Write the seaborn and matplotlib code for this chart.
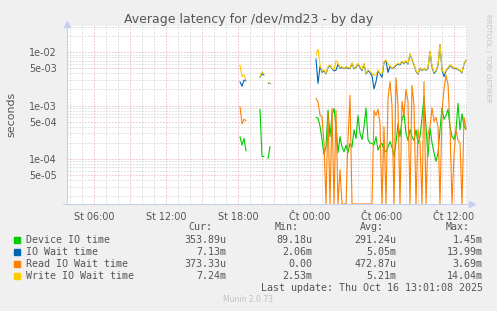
import numpy as np
import pandas as pd
import matplotlib
matplotlib.use("Agg")
import matplotlib.pyplot as plt
import seaborn as sns
from matplotlib.ticker import FixedLocator, FixedFormatter, NullFormatter
from matplotlib.lines import Line2D
from matplotlib.patches import Rectangle

# ---------------- data ----------------
nan = np.nan
title = "Average latency for /dev/md23 - by day"
ylabel = "seconds"

# x tick labels (hours since Wed 00:00)
xtick_hours = [6, 12, 18, 24, 30, 36]
xtick_labels = ["St 06:00", "St 12:00", "St 18:00", "Čt 00:00", "Čt 06:00", "Čt 12:00"]
ytick_values = [1e-2, 5e-3, 1e-3, 5e-4, 1e-4, 5e-5]
ytick_labels = ["1e-02", "5e-03", "1e-03", "5e-04", "1e-04", "5e-05"]

# evening block: 10-minute samples starting Wed 18:10
evening_start_h = 18 + 10 / 60
dev_evening = [2.6e-4, 1.8e-4, 2.4e-4, 1.4e-4, nan, nan, nan, nan, nan, nan,
               8.5e-4, 1.1e-4, 1.1e-4, nan, 1.0e-4, 1.7e-4]
iow_evening = [2.8e-3, 2.3e-3, 3.0e-3, 2.9e-3, nan, nan, nan, nan, nan, nan,
               3.4e-3, 4.0e-3, 3.7e-3, nan, 2.6e-3, 2.6e-3]
rd_evening = [9.5e-4, 4.5e-4, 5.5e-4, 5.2e-4, nan, nan, nan, nan, nan, nan,
              0.0, 0.0, 0.0, nan, 0.0, 0.0]
wr_evening = [5.8e-3, 3.5e-3, 3.8e-3, 3.0e-3, nan, nan, nan, nan, nan, nan,
              3.5e-3, 4.3e-3, 3.9e-3, nan, 2.7e-3, 2.6e-3]

# main block: 10-minute samples starting Thu 00:30
main_start_h = 24.5
dev_main = [6.0e-4, 5.8e-4, 4.1e-4, 2.3e-4, 1.2e-4, 1.65e-4, 8.2e-4, 2.6e-4, 6.6e-4, 8.8e-4,
            4.1e-4, 1.3e-4, 2.6e-4, 1.65e-4, 1.35e-4, 1.8e-4, 1.3e-4, 1.95e-4, 1.65e-4, 3.5e-4,
            2.4e-4, 6.5e-4, 3.0e-4, 2.3e-4, 4.0e-4, 9.0e-4, 2.3e-4, 1.95e-4, 1.95e-4, 1.8e-4,
            2.6e-4, 1.45e-4, 1.8e-4, 1.95e-4, 1.45e-4, 1.35e-4, 1.65e-4, 2.1e-4, 1.65e-4, 1.1e-4,
            2.0e-4, 4.5e-4, 2.6e-4, 5.5e-4, 7.0e-4, 3.0e-4, 2.2e-4, 3.5e-4, 2.6e-4, 2.2e-4,
            3.5e-4, 1.9e-4, 2.6e-4, 6.0e-4, 1.45e-3, 4.0e-4, 1.1e-4, 3.7e-4, 2.0e-4, 1.3e-4,
            8.9e-5, 1.3e-4, 3.5e-4, 9.0e-4, 5.5e-4, 6.5e-4, 8.5e-4, 4.0e-4, 2.6e-4, 2.3e-4,
            3.5e-4, 1.1e-3, 3.5e-4, 7.0e-4, 4.0e-4, 3.54e-4]
iow_main = [7.5e-3, 2.6e-3, 5.4e-3, 4.2e-3, 4.5e-3, 3.9e-3, 5.2e-3, 5.6e-3, 4.9e-3, 4.5e-3,
            4.6e-3, 6.0e-3, 5.0e-3, 5.2e-3, 4.9e-3, 5.2e-3, 5.0e-3, 4.9e-3, 6.2e-3, 4.9e-3,
            5.2e-3, 6.0e-3, 5.2e-3, 4.5e-3, 6.0e-3, 3.9e-3, 4.5e-3, 4.2e-3, 3.6e-3, 2.06e-3,
            2.8e-3, 4.5e-3, 3.9e-3, 3.4e-3, 6.4e-3, 7.0e-3, 4.2e-3, 5.4e-3, 4.9e-3, 5.2e-3,
            5.6e-3, 6.0e-3, 5.8e-3, 6.6e-3, 6.2e-3, 6.8e-3, 6.0e-3, 9.2e-3, 7.3e-3, 5.8e-3,
            4.4e-3, 3.9e-3, 5.0e-3, 4.5e-3, 4.9e-3, 4.6e-3, 5.0e-3, 1.02e-2, 5.3e-3, 4.0e-3,
            4.4e-3, 5.6e-3, 1.399e-2, 4.6e-3, 3.5e-3, 4.5e-3, 5.0e-3, 5.6e-3, 5.3e-3, 4.9e-3,
            5.0e-3, 4.7e-3, 4.5e-3, 4.1e-3, 6.0e-3, 7.13e-3]
rd_main = [1.36e-3, 1.17e-3, 6.6e-4, 6.2e-4, 1.95e-4, 0.0, 7.6e-4, 0.0, 8.8e-4, 0.0,
           8.2e-4, 0.0, 6.2e-5, 0.0, 0.0, 0.0, 2.3e-4, 1.55e-3, 0.0, 0.0,
           0.0, 0.0, 0.0, 0.0, 0.0, 0.0, 0.0, 0.0, 0.0, 8.0e-4,
           6.5e-4, 8.5e-4, 4.5e-4, 0.0, 4.0e-4, 0.0, 1.4e-3, 2.8e-3, 1.0e-3, 0.0,
           3.3e-3, 1.0e-3, 0.0, 1.2e-3, 6.5e-4, 2.0e-3, 1.2e-3, 0.0, 2.4e-3, 1.0e-3,
           0.0, 3.5e-4, 2.0e-4, 0.0, 2.8e-3, 0.0, 3.0e-4, 4.0e-4, 9.0e-4, 5.0e-4,
           6.0e-4, 4.0e-4, 0.0, 8.0e-4, 2.0e-3, 3.69e-3, 2.5e-3, 4.0e-4, 0.0, 1.2e-4,
           3.5e-4, 2.2e-4, 2.0e-4, 0.0, 6.0e-4, 3.73e-4]
wr_main = [9.0e-3, 1.15e-2, 5.8e-3, 4.4e-3, 4.7e-3, 4.0e-3, 5.4e-3, 5.8e-3, 5.0e-3, 4.7e-3,
           7.0e-3, 6.2e-3, 5.2e-3, 5.4e-3, 5.0e-3, 5.4e-3, 5.2e-3, 5.0e-3, 6.4e-3, 5.0e-3,
           5.4e-3, 6.2e-3, 5.4e-3, 4.7e-3, 6.2e-3, 4.0e-3, 4.7e-3, 4.4e-3, 4.0e-3, 3.7e-3,
           3.8e-3, 4.7e-3, 4.0e-3, 4.0e-3, 6.6e-3, 7.2e-3, 6.0e-3, 5.6e-3, 5.0e-3, 5.4e-3,
           5.8e-3, 6.2e-3, 6.0e-3, 6.8e-3, 6.4e-3, 7.0e-3, 6.2e-3, 9.5e-3, 7.5e-3, 6.0e-3,
           4.5e-3, 4.0e-3, 5.2e-3, 4.6e-3, 5.0e-3, 4.7e-3, 5.2e-3, 1.05e-2, 5.5e-3, 4.2e-3,
           4.6e-3, 5.8e-3, 1.404e-2, 4.8e-3, 4.0e-3, 4.6e-3, 5.2e-3, 5.8e-3, 5.5e-3, 5.0e-3,
           5.2e-3, 4.8e-3, 4.6e-3, 4.2e-3, 6.2e-3, 7.24e-3]

series_names = ["Device IO time", "IO Wait time", "Read IO Wait time", "Write IO Wait time"]
series_colors = ["#00CC00", "#0066B3", "#FF8000", "#FFCC00"]
leg_cur = ["353.89u", "7.13m", "373.33u", "7.24m"]
leg_min = ["89.18u", "2.06m", "0.00", "2.53m"]
leg_avg = ["291.24u", "5.05m", "472.87u", "5.21m"]
leg_max = ["1.45m", "13.99m", "3.69m", "14.04m"]
last_update = "Last update: Thu Oct 16 13:01:08 2025"
munin_ver = "Munin 2.0.73"
rrd_credit = "RRDTOOL / TOBI OETIKER"

# ---------------- layout ----------------
W, H = 497, 311
XMIN_H, XMAX_H = 3.75, 37.0833
YMIN, YMAX = 1.41e-5, 3.12e-2
STEP = 1 / 6

sns.set_theme(style="white")
plt.rcParams['font.family'] = ['DejaVu Sans']
TXT = "#555555"

fig = plt.figure(figsize=(W / 100, H / 100), dpi=100, facecolor="#F0F0F0")
def fx(px): return px / W
def fy(py): return 1 - py / H

ax = fig.add_axes([fx(67), fy(204), fx(467) - fx(67), fy(26) - fy(204)])
ax.set_facecolor("white")

t_even = evening_start_h + STEP * np.arange(len(dev_evening))
t_main = main_start_h + STEP * np.arange(len(dev_main))
t_all = np.r_[t_even, [nan], t_main]

blocks = [(dev_evening, dev_main), (iow_evening, iow_main),
          (rd_evening, rd_main), (wr_evening, wr_main)]

for (ev, mn), name, col in zip(blocks, series_names, series_colors):
    v = np.r_[np.asarray(ev, float), [nan], np.asarray(mn, float)]
    ok = ~np.isnan(v)
    seg = np.cumsum(np.r_[True, ok[1:] != ok[:-1]])
    d = pd.DataFrame({"t": t_all, "v": np.where(v > 0, v, YMIN), "seg": seg})[ok]
    sns.lineplot(data=d, x="t", y="v", units="seg", estimator=None, sort=False,
                 color=col, lw=0.8, ax=ax, legend=False, zorder=3)

ax.set_yscale("log")
ax.set_xlim(XMIN_H, XMAX_H)
ax.set_ylim(YMIN, YMAX)
ax.set_xlabel("")
ax.set_ylabel("")

# grid
x_major = np.arange(6, 37, 3)
x_minor = [h for h in range(4, 38) if h % 3 != 0]
lab_map = dict(zip(xtick_hours, xtick_labels))
ax.xaxis.set_major_locator(FixedLocator(x_major))
ax.xaxis.set_major_formatter(FixedFormatter([lab_map.get(h, "") for h in x_major]))
ax.xaxis.set_minor_locator(FixedLocator(x_minor))
ax.xaxis.set_minor_formatter(NullFormatter())
y_minor = [m * 10.0 ** e for e in range(-5, -1) for m in (2, 3, 4, 6, 7, 8, 9)]
ax.yaxis.set_major_locator(FixedLocator(ytick_values))
ax.yaxis.set_major_formatter(FixedFormatter(ytick_labels))
ax.yaxis.set_minor_locator(FixedLocator(y_minor))
ax.yaxis.set_minor_formatter(NullFormatter())

ax.grid(True, which="major", color="#E3A3A3", lw=0.72, ls=(0, (1, 2)))
ax.grid(True, which="minor", color="#C8C8C8", lw=0.72, ls=(0, (1, 2)))
ax.set_axisbelow(True)
ax.tick_params(axis="both", which="major", length=2.5, width=0.7, color="#E3A3A3",
               labelsize=6.9, labelcolor=TXT, pad=3)
ax.tick_params(axis="both", which="minor", length=2, width=0.7, color="#C8C8C8")
ax.tick_params(axis="y", which="major", pad=5)
for s in ax.spines.values():
    s.set_visible(False)

# axis lines with arrows
AX_C = "#C8CEF2"
fig.add_artist(Line2D([fx(67), fx(67)], [fy(204), fy(25)], color=AX_C, lw=0.8, transform=fig.transFigure))
fig.add_artist(Line2D([fx(63), fx(471)], [fy(204), fy(204)], color=AX_C, lw=0.8, transform=fig.transFigure))
fig.add_artist(Line2D([fx(67)], [fy(24)], marker="^", ms=4, color=AX_C, mec=AX_C, transform=fig.transFigure))
fig.add_artist(Line2D([fx(472)], [fy(204)], marker=">", ms=4, color=AX_C, mec=AX_C, transform=fig.transFigure))

# texts
fig.text(fx(248.5), fy(19.5), title, ha="center", va="center", fontsize=9, color=TXT)
fig.text(fx(11), fy(114.5), ylabel, ha="center", va="center", rotation=90, fontsize=7.9, color=TXT)
fig.text(fx(488), fy(58), rrd_credit, ha="center", va="center", rotation=270, fontsize=5, color="#C4C4C4")

MONO = dict(family="DejaVu Sans Mono", fontsize=7.2, color=TXT, va="center")
hdr_y = 227.3
fig.text(fx(212.7), fy(hdr_y), "Cur:", ha="right", **MONO)
fig.text(fx(299), fy(hdr_y), "Min:", ha="right", **MONO)
fig.text(fx(384), fy(hdr_y), "Avg:", ha="right", **MONO)
fig.text(fx(470), fy(hdr_y), "Max:", ha="right", **MONO)
for i, name in enumerate(series_names):
    yy = 239.6 + 12 * i
    fig.add_artist(Rectangle((fx(14), fy(yy + 3)), fx(6), 6 / H, color=series_colors[i],
                             transform=fig.transFigure))
    fig.text(fx(26), fy(yy), name, ha="left", **MONO)
    fig.text(fx(226), fy(yy), leg_cur[i], ha="right", **MONO)
    fig.text(fx(312.3), fy(yy), leg_min[i], ha="right", **MONO)
    fig.text(fx(396.7), fy(yy), leg_avg[i], ha="right", **MONO)
    fig.text(fx(482.7), fy(yy), leg_max[i], ha="right", **MONO)
fig.text(fx(482.7), fy(287.8), last_update, ha="right", **MONO)
fig.text(fx(248), fy(300), munin_ver, ha="center", va="center", fontsize=5.5, color="#C0C0C0")

fig.savefig("out.png", dpi=100, facecolor=fig.get_facecolor())
